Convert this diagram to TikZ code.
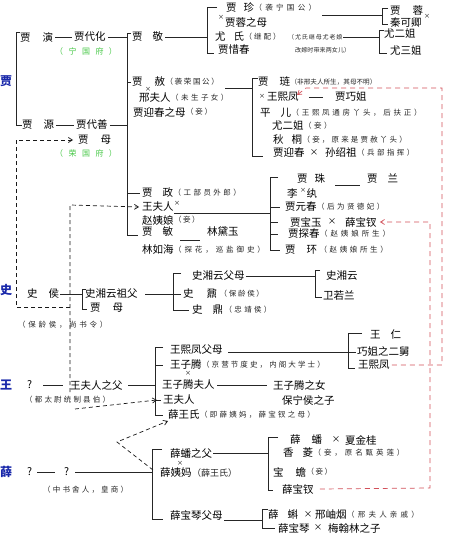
\documentclass[tikz,border=0pt]{standalone}
\usepackage{fontspec}
\setmainfont{Noto Sans CJK SC}
\usetikzlibrary{arrows.meta}
\definecolor{jblue}{RGB}{25,40,170}
\definecolor{jgreen}{RGB}{70,200,70}
\definecolor{jred}{RGB}{210,80,90}
\newcommand\ann[3][33]{{\fontsize{#2}{#2}\selectfont\addfontfeature{LetterSpace=#1}#3}}
\newcommand\gap[1]{\hspace{#1pt}}
\begin{document}
\begin{tikzpicture}[x=1pt,y=-1pt,
 t/.style={anchor=west,inner sep=0pt,font=\fontsize{10.5}{12}\selectfont},
 a/.style={anchor=west,inner sep=0pt,text=black!85},
 fam/.style={anchor=west,inner sep=0pt,text=jblue,font=\fontsize{12}{12}\selectfont\bfseries},
 fu/.style={anchor=west,inner sep=0pt,text=jgreen,font=\fontsize{8}{9}\selectfont},
 xs/.style={inner sep=0pt,font=\fontsize{6}{6}\selectfont},
 xm/.style={inner sep=0pt,font=\fontsize{8.5}{9}\selectfont},
 ln/.style={line width=0.6pt,black!85},
 dl/.style={line width=0.7pt,dash pattern=on 4pt off 3pt,black!90},
 rl/.style={line width=0.7pt,dash pattern=on 5pt off 4pt,jred},
 ar/.style={-{Straight Barb[length=4pt,width=5pt]}}]
\fill[white] (0,0) rectangle (457,540);
\path[use as bounding box] (0,0) rectangle (457,540);

% family labels
\node[fam] (Ljia) at (0,81) {贾};
\node[fam] (Lshi) at (0,290) {史};
\node[fam] (Lwang) at (0,385) {王};
\node[fam] (Lxue) at (0,472) {薛};

% ---------- Jia: Ningguo ----------
\node[t] (jy) at (20,37) {贾\gap{12}演};
\node[t] (jdh) at (74,37) {贾代化};
\node[fu] (ngf) at (55,51) {\addfontfeature{LetterSpace=68}（宁国府）};
\node[t] (jj) at (132,37) {贾\gap{10}敬};
\node[t] (jzn) at (226,8) {贾\gap{7}珍};
\node[a] (jzna) at (jzn.east) {\ann[44]{7.5}{（袭宁国公）}};
\node[xs] (x1) at (221,17) {×};
\node[t] (jrm) at (225,22) {贾蓉之母};
\node[t] (ys) at (215,37) {尤\gap{8}氏};
\node[a] (ysa) at (ys.east) {\ann[27]{7.5}{（继配）}};
\node[a] (ysb) at (288,37) {\ann[15]{6}{（尤氏继母尤老娘}};
\node[a] (ysc) at (295,50) {\ann[2]{6}{改嫁时带来两女儿）}};
\node[t] (jxc) at (218,50) {贾惜春};
\node[t] (jr) at (390,11) {贾\gap{12}蓉};
\node[t] (qkq) at (390,23) {秦可卿};
\node[xs] (x2) at (427,16) {×};
\node[t] (ye) at (384,34) {尤二姐};
\node[t] (ysj) at (390,51) {尤三姐};

% ---------- Jia: Rongguo ----------
\node[t] (js) at (132,82) {贾\gap{12}赦};
\node[a] (jsa) at (js.east) {\ann[22]{7.5}{（袭荣国公）}};
\node[xs] (x3) at (148,89) {×};
\node[t] (xfr) at (139,98) {邢夫人};
\node[a] (xfra) at (xfr.east) {\ann[33]{7.5}{（未生子女）}};
\node[t] (jycm) at (133,112) {贾迎春之母};
\node[a] (jycma) at (jycm.east) {\ann[24]{7.5}{（妾）}};

\node[t] (jl) at (258,82) {贾\gap{11}琏};
\node[a] (jla) at (jl.east) {\ann[0]{6.6}{（非邢夫人所生，其母不明）}};
\node[xs] (x4) at (262,96) {×};
\node[t] (wxf) at (267,97) {王熙凤};
\node[t] (jqj) at (335,97) {贾巧姐};
\node[t] (pe) at (260,113) {平\gap{10}儿};
\node[a] (pea) at (pe.east) {\ann[36]{7.5}{（王熙凤通房丫头，后扶正）}};
\node[t] (ye2) at (272,126) {尤二姐};
\node[a] (ye2a) at (ye2.east) {\ann[33]{7.5}{（妾）}};
\node[t] (qt) at (273,140) {秋\gap{8}桐};
\node[a] (qta) at (qt.east) {\ann[29]{7.5}{（妾，原来是贾赦丫头）}};
\node[t] (jyc) at (273,153) {贾迎春};
\node[xm] (x5) at (314,153) {×};
\node[t] (ssz) at (325,153) {孙绍祖};
\node[a] (ssza) at (ssz.east) {\ann[33]{7.5}{（兵部指挥）}};

\node[t] (jyuan) at (22,125) {贾\gap{11}源};
\node[t] (jds) at (76,125) {贾代善};
\node[t] (jm) at (78,140) {贾\gap{12}母};
\node[fu] (rgf) at (55,153) {\addfontfeature{LetterSpace=68}（荣国府）};

\node[t] (jzh) at (142,193) {贾\gap{10}政};
\node[a] (jzha) at (jzh.east) {\ann[33]{7.5}{（工部员外郎）}};
\node[t] (wfr) at (142,207) {王夫人};
\node[xs] (x6) at (177,203) {×};
\node[t] (zyn) at (142,220) {赵姨娘};
\node[a] (zyna) at (zyn.east) {\ann[20]{7.5}{（妾）}};
\node[t] (jmin) at (142,232) {贾\gap{10}敏};
\node[t] (ldy) at (207,232) {林黛玉};
\node[t] (lrh) at (142,250) {林如海};
\node[a] (lrha) at (lrh.east) {\ann[39]{7.5}{（探花，巡盐御史）}};

\node[t] (jzhu) at (297,179) {贾\gap{7}珠};
\node[t] (jlan) at (367,179) {贾\gap{10}兰};
\node[t] (lw) at (287,193) {李\gap{9}纨};
\node[xs] (x7) at (303,190) {×};
\node[t] (jyc2) at (285,207) {贾元春};
\node[a] (jyc2a) at (jyc2.east) {\ann[33]{7.5}{（后为贤德妃）}};
\node[t] (jby) at (290,222) {贾宝玉};
\node[xm] (x8) at (332,222) {×};
\node[t] (xbc) at (345,222) {薛宝钗};
\node[t] (jtc) at (288,234) {贾探春};
\node[a] (jtca) at (jtc.east) {\ann[39]{7.5}{（赵姨娘所生）}};
\node[t] (jh) at (285,250) {贾\gap{11}环};
\node[a] (jha) at ([xshift=2pt]jh.east) {\ann[35]{7.5}{（赵姨娘所生）}};

% ---------- Shi ----------
\node[t] (sh) at (27,294) {史\gap{11}侯};
\node[a] (sha) at (18,325) {\ann[36]{7.5}{（保龄侯，尚书令）}};
\node[t] (szf) at (85,294) {史湘云祖父};
\node[t] (jm2) at (90,308) {贾\gap{12}母};
\node[t] (sfm) at (192,276) {史湘云父母};
\node[t] (sxy) at (326,276) {史湘云};
\node[t] (wrl) at (323,295) {卫若兰};
\node[t] (sn) at (183,294) {史\gap{13}鼐};
\node[a] (sna) at ([xshift=2pt]sn.east) {\ann[23]{7.5}{（保龄侯）}};
\node[t] (sd) at (192,310) {史\gap{10}鼎};
\node[a] (sda) at ([xshift=1pt]sd.east) {\ann[31]{7.5}{（忠靖侯）}};

% ---------- Wang ----------
\node[t] (q1) at (27,385) {?};
\node[t] (wfz) at (70,385) {王夫人之父};
\node[a] (wfza) at (25,400) {\ann[29]{7.5}{（都太尉统制县伯）}};
\node[t] (wxffm) at (170,350) {王熙凤父母};
\node[t] (wr) at (370,335) {王\gap{10}仁};
\node[t] (qjz) at (357,352) {巧姐之二舅};
\node[t] (wxf2) at (358,365) {王熙凤};
\node[t] (wzt) at (170,365) {王子腾};
\node[a] (wzta) at (wzt.east) {\ann[28]{7.5}{（京营节度史，内阁大学士）}};
\node[xs] (x9) at (188,373) {×};
\node[t] (wztfr) at (162,385) {王子腾夫人};
\node[t] (wztn) at (273,385) {王子腾之女};
\node[t] (bnh) at (282,400) {保宁侯之子};
\node[t] (wfr2) at (163,400) {王夫人};
\node[t] (xws) at (168,415) {薛王氏};
\node[a] (xwsa) at (xws.east) {\ann[30]{7.5}{（即薛姨妈，薛宝钗之母）}};

% ---------- Xue ----------
\node[t] (q2) at (27,472) {?};
\node[t] (q3) at (64,472) {?};
\node[a] (q3a) at (43,490) {\ann[29]{7.5}{（中书舍人，皇商）}};
\node[t] (xpf) at (170,453) {薛蟠之父};
\node[xs] (x10) at (180,463) {×};
\node[t] (xym) at (160,473) {薛姨妈};
\node[a] (xyma) at (xym.east) {\fontsize{9}{9}\selectfont（薛王氏）};
\node[t] (xbf) at (170,515) {薛宝琴父母};
\node[t] (xp) at (290,440) {薛\gap{11}蟠};
\node[xm] (x11) at (336,440) {×};
\node[t] (xjg) at (345,440) {夏金桂};
\node[t] (xl) at (283,453) {香\gap{9}菱};
\node[a] (xla) at (xl.east) {\ann[39]{7.5}{（妾，原名甄英莲）}};
\node[t] (bch) at (273,472) {宝\gap{12}蟾};
\node[a] (bcha) at (bch.east) {\ann[20]{7.5}{（妾）}};
\node[t] (xbc2) at (282,489) {薛宝钗};
\node[t] (xk) at (268,515) {薛\gap{9}蝌};
\node[xm] (x12) at (308,515) {×};
\node[t] (xxy) at (315,515) {邢岫烟};
\node[a] (xxya) at (xxy.east) {\ann[43]{7.5}{（邢夫人亲戚）}};
\node[t] (xbq) at (278,528) {薛宝琴};
\node[xm] (x13) at (318,528) {×};
\node[t] (mhl) at (328,528) {梅翰林之子};

% ---------- connectors: Jia ----------
\draw[ln] (20,32) -- (16,32) -- (16,125) -- (jyuan.west);
\draw[ln,shorten <=2pt,shorten >=2pt] (jy) -- (jdh);
\draw[ln,shorten <=2pt,shorten >=2pt] (jyuan) -- (jds);
\draw[ln] ([xshift=2pt]jdh.east) -- (127,37);
\draw[ln] ([xshift=2pt]jds.east) -- (127,125);
\draw[ln] (131,33) -- (127,33) -- (127,235) -- (138,235);
\draw[ln] (127,82) -- ([xshift=-1pt]js.west);
\draw[ln] (127,193) -- ([xshift=-2pt]jzh.west);
\draw[ln] ([xshift=2pt]jj.east) -- (207,37);
\draw[ln] (217,7) -- (207,7) -- (207,53) -- (214,53);
\draw[ln] (322,15) -- (382,15);
\draw[ln] (388,8) -- (382,8) -- (382,24) -- (388,24);
\draw[ln] (343,37) -- (379,37);
\draw[ln] (384,30) -- (379,30) -- (379,53) -- (387,53);
\draw[ln] (225,88) -- (252,88);
\draw[ln] (258,78) -- (252,78) -- (252,156) -- (263,156);
\draw[ln] ([xshift=10pt]wxf.east) -- ([xshift=-12pt]jqj.west);
\draw[ln] (174,213) -- (270,213);
\draw[ln] (278,177) -- (270,177) -- (270,250) -- (280,250);
\draw[ln] (270,207) -- (280,207);
\draw[ln] (270,222) -- (278,222);
\draw[ln] (270,234) -- (278,234);
\draw[ln] (335,185) -- (360,185);
\draw[ln] (180,240) -- (200,240);

% ---------- connectors: Shi ----------
\draw[ln,shorten <=1pt] (sh.east) -- (82,294);
\draw[ln] (86,289) -- (82,289) -- (82,309) -- (87,309);
\draw[ln] (145,294) -- (173,294);
\draw[ln] (181,273) -- (173,273) -- (173,310) -- (189,310);
\draw[ln] (173,294) -- (181,294);
\draw[ln,shorten <=1pt] (sfm.east) -- (315,276);
\draw[ln] (320,270) -- (315,270) -- (315,297) -- (322,297);

% ---------- connectors: Wang ----------
\draw[ln] (43,385) -- (63,385);
\draw[ln] (128,385) -- (155,385);
\draw[ln] (163,347) -- (155,347) -- (155,415) -- (163,415);
\draw[ln] (155,365) -- (163,365);
\draw[ln] (155,400) -- (161,400);
\draw[ln] (228,352) -- (348,352);
\draw[ln] (362,333) -- (348,333) -- (348,368) -- (355,368);
\draw[ln] (348,352) -- (356,352);
\draw[ln] (217,385) -- (267,385);

% ---------- connectors: Xue ----------
\draw[ln] (37,472) -- (55,472);
\draw[ln] (75,472) -- (152,472);
\draw[ln] (162,449) -- (152,449) -- (152,519) -- (163,519);
\draw[ln] (213,453) -- (268,453);
\draw[ln] (278,437) -- (268,437) -- (268,490) -- (273,490);
\draw[ln] (224,520) -- (262,520);
\draw[ln] (268,509) -- (262,509) -- (262,528) -- (275,528);

% ---------- dashed links ----------
\draw[dl,ar] (70,307) -- (16,307) -- (16,140) -- ([xshift=-5pt]jm.west);
\draw[dl,ar] (70,392) -- (70,205) -- ([xshift=-3pt]wfr.west);
\draw[dl,ar] (75,409) -- ([xshift=-6pt]wfr2.west);
\draw[dl,ar] (153,470) -- (117,442) -- (168,421);

% ---------- red links ----------
\draw[rl,ar] ([xshift=2pt]wxf2.east) -- (442,365) -- (442,88) -- (306,88) -- (297,95);
\draw[rl,ar] ([xshift=6pt]xbc2.east) -- (430,488) -- (430,222) -- ([xshift=3pt]xbc.east);
\end{tikzpicture}
\end{document}
